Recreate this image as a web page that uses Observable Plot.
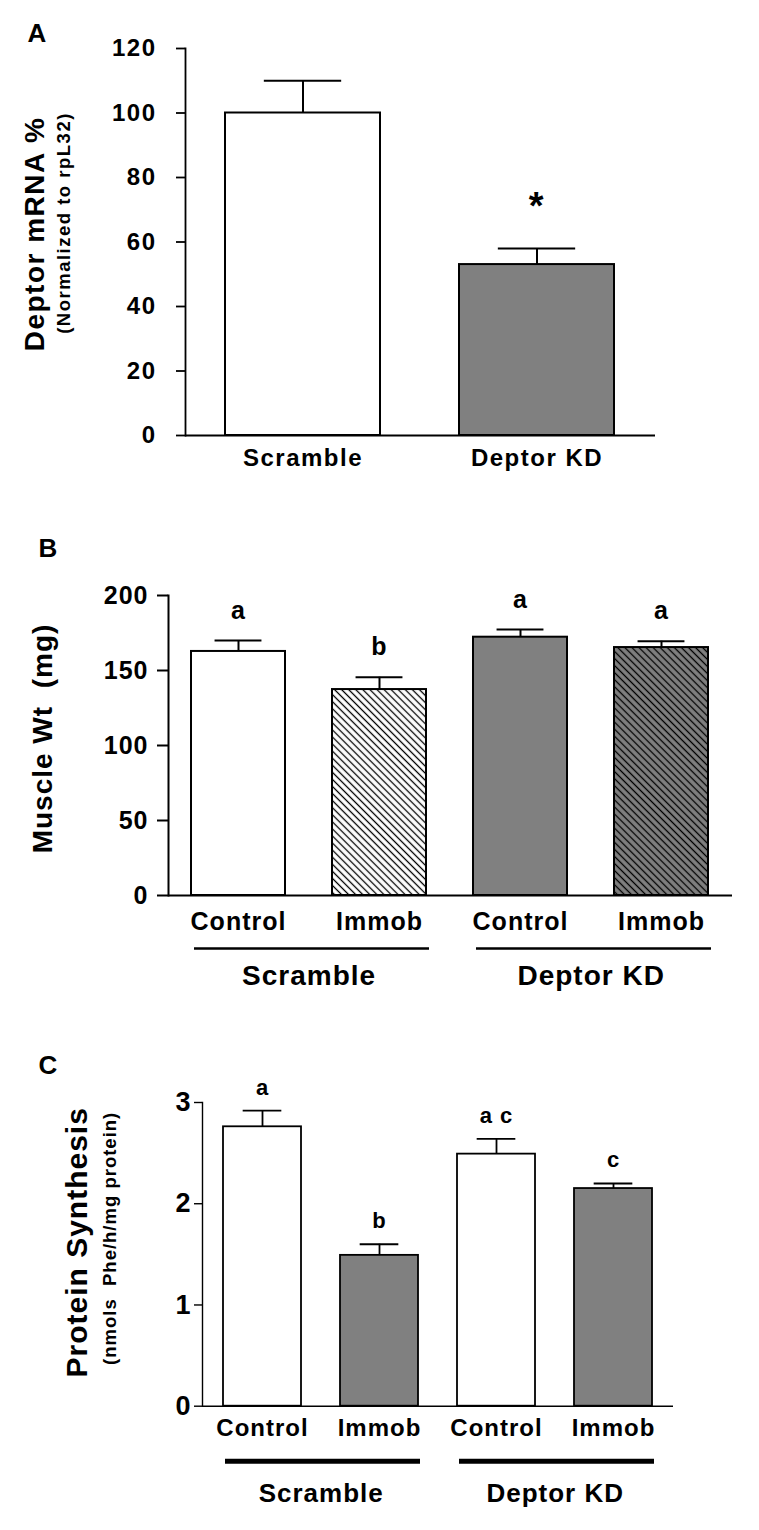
<!DOCTYPE html>
<html><head><meta charset="utf-8">
<script src="https://cdn.jsdelivr.net/npm/d3@7"></script>
<script src="https://cdn.jsdelivr.net/npm/@observablehq/plot@0.6"></script>
<style>
body{margin:0;background:#fff;}
#root{position:relative;width:759px;height:1530px;overflow:hidden;}
.panel{position:absolute;left:0;}
</style></head><body><div id="root"></div>
<script>
// ---------- Panel A data ----------
const aKeys = ["Scramble", "Deptor KD"];
const aValues = [100, 53];
const aErrors = [10, 5];
const aFills = ["white", "#808080"];
const aMarks = ["", "*"];
const aTicks = [0, 20, 40, 60, 80, 100, 120];

// ---------- Panel B data ----------
const bKeys = ["Scramble Control", "Scramble Immob", "Deptor KD Control", "Deptor KD Immob"];
const bLabels = ["Control", "Immob", "Control", "Immob"];
const bValues = [162.7, 137.3, 172.2, 165.3];
const bErrors = [7.3, 8.2, 5.1, 4.2];
const bFills = ["white", "url(#hatchWhite)", "#808080", "url(#hatchGray)"];
const bLetters = ["a", "b", "a", "a"];
const bTicks = [0, 50, 100, 150, 200];

// ---------- Panel C data ----------
const cKeys = bKeys;
const cLabels = bLabels;
const cValues = [2.76, 1.49, 2.49, 2.15];
const cErrors = [0.16, 0.11, 0.15, 0.05];
const cFills = ["white", "#808080", "white", "#808080"];
const cLetters = ["a", "b", "a c", "c"];
const cTicks = [0, 1, 2, 3];

const groupNames = ["Scramble", "Deptor KD"];
const groupMembers = [[bKeys[0], bKeys[1]], [bKeys[2], bKeys[3]]];

const FONT = "'Liberation Sans', Arial, Helvetica, sans-serif";

function hatchDefs() {
  return () => {
    const defs = d3.create("svg:defs");
    for (const [id, bg] of [["hatchWhite", "white"], ["hatchGray", "#808080"]]) {
      const p = defs.append("pattern").attr("id", id)
        .attr("patternUnits", "userSpaceOnUse")
        .attr("width", 5).attr("height", 5)
        .attr("patternTransform", "rotate(-45)");
      p.append("rect").attr("width", 5).attr("height", 5).attr("fill", bg);
      p.append("line").attr("x1", 2.5).attr("y1", -1).attr("x2", 2.5).attr("y2", 6)
        .attr("stroke", "black").attr("stroke-width", 1.3);
    }
    return defs.node();
  };
}

function panel(cfg) {
  const n = cfg.keys.length;
  const rangeW = cfg.width - cfg.ml - cfg.mr;
  const step = rangeW / (n - cfg.pi + 2 * cfg.po);
  const bw = step * (1 - cfg.pi);
  const rows = cfg.keys.map((k, i) => ({
    key: k, label: cfg.labels[i], value: cfg.values[i], err: cfg.errors[i],
    top: cfg.values[i] + cfg.errors[i], fill: cfg.fills[i], letter: cfg.letters[i]
  }));
  const labelOf = Object.fromEntries(rows.map(r => [r.key, r.label]));
  const marks = [];
  if (cfg.hatch) marks.push(hatchDefs());
  marks.push(
    Plot.barY(rows, {x: "key", y: "value", fill: "fill", stroke: "black", strokeWidth: cfg.barStroke}),
    Plot.ruleX(rows, {x: "key", y1: "value", y2: "top", stroke: "black", strokeWidth: cfg.errStroke}),
    Plot.tickY(rows, {x: "key", y: "top", stroke: "black", strokeWidth: cfg.errStroke, insetLeft: bw / 4, insetRight: bw / 4}),
    Plot.text(rows, {x: "key", y: "top", text: "letter", lineAnchor: "bottom", dy: cfg.letterDy,
      fontSize: cfg.letterSize, fontWeight: "bold", fill: "black"}),
    Plot.ruleY([0], {stroke: "black", strokeWidth: cfg.axisStroke}),
    Plot.frame({anchor: "left", stroke: "black", strokeWidth: cfg.axisStroke}),
    Plot.axisY({ticks: cfg.ticks, tickSize: cfg.tickSize, tickPadding: cfg.tickPadding, fontSize: cfg.tickFont,
      fontWeight: "bold", label: null, strokeWidth: cfg.axisStroke, tickFormat: d => String(d)}),
    Plot.axisX({tickSize: 0, tickPadding: cfg.xPad, fontSize: cfg.xFont, fontWeight: "bold", label: null,
      tickFormat: d => labelOf[d]}),
    Plot.text([cfg.title], {text: d => d, frameAnchor: "left", rotate: -90, lineAnchor: "middle", textAnchor: "middle",
      dx: cfg.titleDx, dy: cfg.titleDy, fontSize: cfg.titleFont, fontWeight: "bold", fill: "black"}),
    Plot.text([cfg.letter], {text: d => d, frameAnchor: "top-left", textAnchor: "start", lineAnchor: "top",
      dx: cfg.letterPosDx, dy: cfg.letterPosDy, fontSize: 26, fontWeight: "bold", fill: "black"})
  );
  if (cfg.subtitle) {
    marks.push(Plot.text([cfg.subtitle], {text: d => d, frameAnchor: "left", rotate: -90, lineAnchor: "middle", textAnchor: "middle",
      dx: cfg.subDx, dy: cfg.subDy, fontSize: cfg.subFont, fontWeight: "bold", fill: "black"}));
  }
  if (cfg.groups) {
    const g = cfg.groups.map((name, i) => ({name, a: cfg.members[i][0], b: cfg.members[i][1]}));
    marks.push(
      Plot.ruleY(g, {x1: "a", x2: "b", y: () => 0, dy: cfg.groupLineDy, stroke: "black",
        strokeWidth: cfg.groupLineW, insetLeft: cfg.groupInsetL, insetRight: cfg.groupInsetR}),
      Plot.text(g, {x: "a", y: () => 0, text: "name", dx: step / 2, dy: cfg.groupTextDy, lineAnchor: "top",
        fontSize: cfg.groupFont, fontWeight: "bold", fill: "black"})
    );
  }
  return Plot.plot({
    width: cfg.width, height: cfg.height,
    marginLeft: cfg.ml, marginRight: cfg.mr, marginTop: cfg.mt, marginBottom: cfg.mb,
    x: {type: "band", domain: cfg.keys, paddingInner: cfg.pi, paddingOuter: cfg.po, align: 0.5, axis: null},
    y: {domain: cfg.domain, axis: null},
    color: {type: "identity"},
    style: {fontFamily: FONT, letterSpacing: cfg.ls + "px", background: "white", color: "black", overflow: "visible"},
    marks
  });
}

const root = document.getElementById("root");
function place(node, top) {
  const div = document.createElement("div");
  div.className = "panel";
  div.style.top = top + "px";
  div.appendChild(node);
  root.appendChild(div);
}

// Panel A
place(panel({
  keys: aKeys, labels: aKeys, values: aValues, errors: aErrors, fills: aFills, letters: aMarks,
  ticks: aTicks, domain: [0, 120],
  width: 759, height: 500, ml: 185, mr: 104, mt: 48, mb: 65, pi: 0.3376, po: 0.171,
  barStroke: 2, errStroke: 2, axisStroke: 1.8,
  tickSize: 9, tickPadding: 20, tickFont: 24, xPad: 13, xFont: 24, ls: 1.5,
  letterDy: -29, letterSize: 38,
  title: "Deptor mRNA %", titleDx: -150, titleDy: -8, titleFont: 28,
  subtitle: "(Normalized to rpL32)", subDx: -121, subDy: -19, subFont: 18.5,
  letter: "A", letterPosDx: -158, letterPosDy: -25
}), 0);

// Panel B
place(panel({
  keys: bKeys, labels: bLabels, values: bValues, errors: bErrors, fills: bFills, letters: bLetters,
  ticks: bTicks, domain: [0, 200], hatch: true,
  width: 759, height: 520, ml: 168, mr: 27, mt: 95, mb: 125, pi: 0.333, po: 0.163,
  barStroke: 2, errStroke: 2, axisStroke: 2,
  tickSize: 11, tickPadding: 9, tickFont: 25, xPad: 17, xFont: 25, ls: 1,
  letterDy: -22, letterSize: 25,
  title: "Muscle Wt  (mg)", titleDx: -125, titleDy: -7, titleFont: 28,
  letter: "B", letterPosDx: -130, letterPosDy: -57,
  groups: groupNames, members: groupMembers,
  groupLineDy: 53, groupLineW: 2.5, groupInsetL: 3, groupInsetR: -3, groupTextDy: 70, groupFont: 28
}), 500);

// Panel C
place(panel({
  keys: cKeys, labels: cLabels, values: cValues, errors: cErrors, fills: cFills, letters: cLetters,
  ticks: cTicks, domain: [0, 3],
  width: 759, height: 510, ml: 202, mr: 86, mt: 82, mb: 124.3, pi: 0.33, po: 0.17,
  barStroke: 1.8, errStroke: 1.8, axisStroke: 1.4,
  tickSize: 8, tickPadding: 3, tickFont: 27, xPad: 13, xFont: 24, ls: 1,
  letterDy: -16, letterSize: 22,
  title: "Protein Synthesis", titleDx: -125, titleDy: -12, titleFont: 30,
  subtitle: "(nmols  Phe/h/mg protein)", subDx: -92, subDy: -16, subFont: 18.5,
  letter: "C", letterPosDx: -164, letterPosDy: -47,
  groups: groupNames, members: groupMembers,
  groupLineDy: 55, groupLineW: 5, groupInsetL: 2, groupInsetR: -2, groupTextDy: 77, groupFont: 26
}), 1020);
</script></body></html>
